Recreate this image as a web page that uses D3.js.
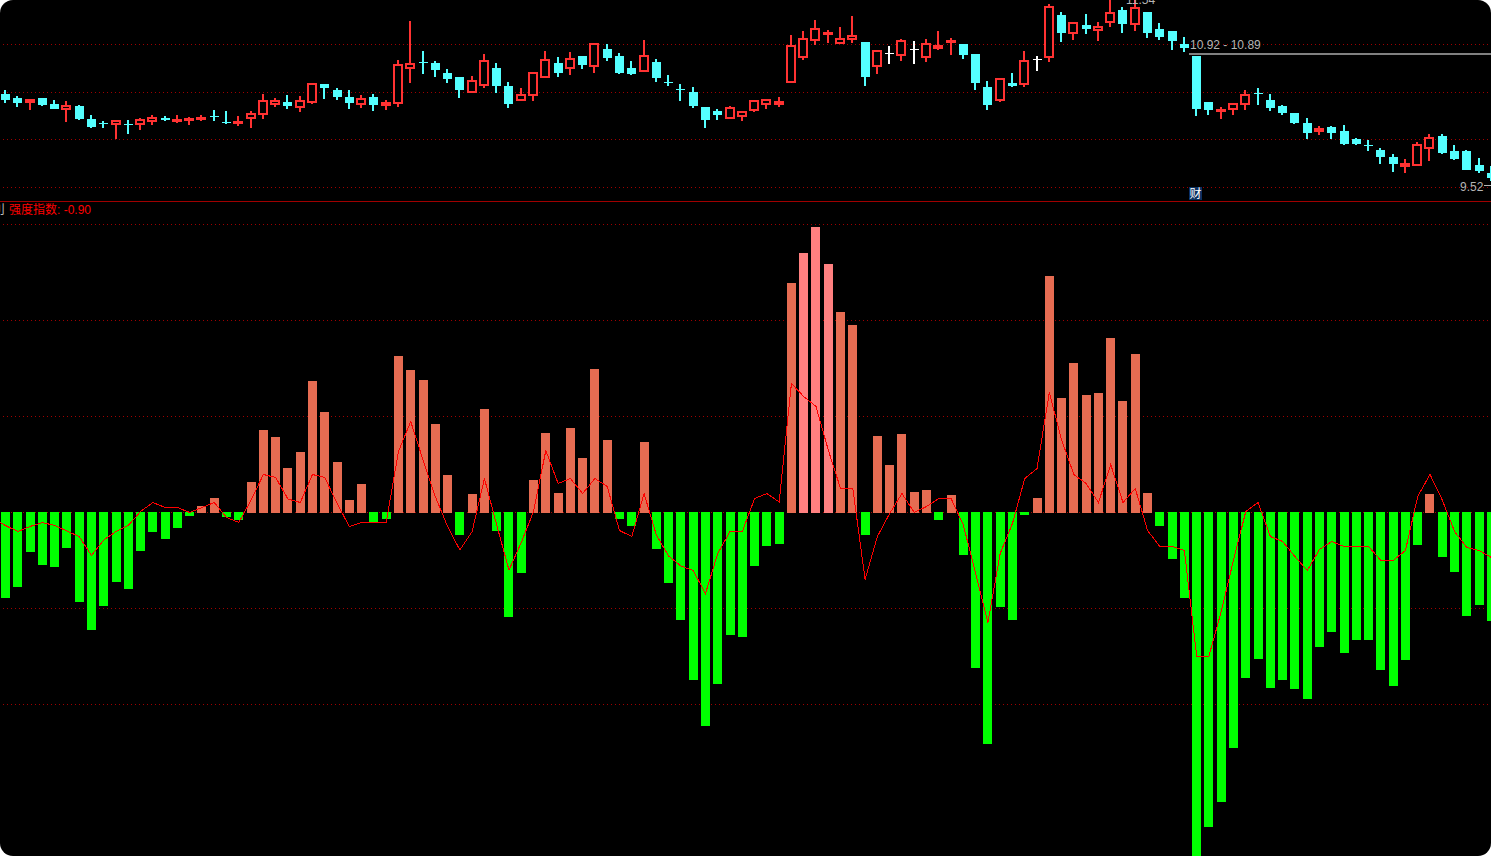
<!DOCTYPE html>
<html>
<head>
<meta charset="utf-8">
<title>强度指数</title>
<script src="https://cdn.jsdelivr.net/npm/d3@7/dist/d3.min.js"></script>
<style>
  html, body { margin: 0; padding: 0; background: #fff; overflow: hidden; }
  svg { display: block; background: #000; border-radius: 13px; }
  text { font-family: "Liberation Sans", "Noto Sans CJK SC", sans-serif; }
</style>
</head>
<body>
<div id="chart"></div>
<script>
// candles, one entry per trading day
var highs = [10.52,10.46,10.43,10.44,10.42,10.41,10.37,10.27,10.21,10.22,10.22,10.24,10.27,10.26,10.27,10.25,10.27,10.32,10.31,10.26,
  10.31,10.48,10.44,10.47,10.46,10.59,10.58,10.54,10.52,10.47,10.48,10.42,10.82,11.21,10.91,10.81,10.73,10.65,10.66,10.88,
  10.79,10.60,10.54,10.70,10.91,10.85,10.90,10.86,10.99,10.98,10.89,10.81,11.02,10.83,10.67,10.58,10.55,10.35,10.33,10.36,
  10.31,10.42,10.43,10.45,11.07,11.11,11.22,11.12,11.15,11.26,11.00,10.92,10.96,11.03,11.01,11.03,11.11,11.04,10.98,10.88,
  10.61,10.64,10.69,10.91,10.86,11.38,11.30,11.20,11.28,11.20,11.42,11.35,11.43,11.30,11.19,11.11,11.05,10.86,10.40,10.35,
  10.39,10.52,10.54,10.48,10.37,10.29,10.24,10.16,10.16,10.17,10.04,10.02,9.94,9.88,9.83,10.00,10.08,10.08,9.97,9.92,9.84,9.76];
var lows = [10.39,10.35,10.32,10.36,10.33,10.20,10.22,10.14,10.14,10.03,10.08,10.12,10.17,10.21,10.19,10.17,10.21,10.21,10.18,10.16,
  10.14,10.23,10.35,10.33,10.30,10.38,10.43,10.42,10.33,10.34,10.31,10.32,10.35,10.59,10.68,10.65,10.59,10.44,10.49,10.54,
  10.49,10.34,10.41,10.41,10.64,10.65,10.67,10.73,10.69,10.81,10.68,10.67,10.70,10.60,10.56,10.41,10.34,10.14,10.22,10.23,
  10.21,10.30,10.33,10.35,10.59,10.82,10.97,10.99,10.98,10.99,10.56,10.68,10.78,10.81,10.78,10.80,10.92,10.87,10.83,10.52,
  10.32,10.40,10.55,10.55,10.71,10.80,11.00,11.02,11.08,11.01,11.15,11.09,11.11,11.04,11.02,10.92,10.90,10.26,10.27,10.23,
  10.27,10.32,10.37,10.31,10.27,10.18,10.03,10.07,10.03,9.97,9.97,9.91,9.78,9.70,9.69,9.76,9.81,9.88,9.82,9.72,9.69,9.61];
var opens = [10.48,10.44,10.39,10.44,10.38,10.32,10.36,10.23,10.19,10.17,
  10.18,10.17,10.20,10.24,10.21,10.21,10.22,10.26,10.20,10.18,
  10.23,10.27,10.37,10.40,10.34,10.39,10.58,10.52,10.45,10.37,
  10.45,10.36,10.38,10.73,10.80,10.79,10.69,10.65,10.49,10.56,
  10.74,10.56,10.41,10.46,10.64,10.79,10.73,10.86,10.75,10.93,
  10.86,10.74,10.70,10.80,10.60,10.53,10.50,10.35,10.31,10.23,
  10.25,10.31,10.37,10.37,10.59,10.84,11.01,11.07,10.98,11.02,
  11.00,10.75,10.89,10.86,10.93,10.84,10.93,10.99,10.98,10.88,
  10.55,10.41,10.59,10.57,10.83,10.84,11.27,11.08,11.17,11.11,
  11.19,11.32,11.17,11.30,11.13,11.11,10.98,10.86,10.40,10.31,
  10.32,10.37,10.49,10.42,10.36,10.29,10.19,10.10,10.15,10.11,
  10.03,9.97,9.92,9.85,9.75,9.76,9.93,10.06,9.91,9.91,9.77,9.69];
var closes = [10.42,10.39,10.43,10.37,10.33,10.37,10.23,10.15,10.18,10.22,
  10.17,10.23,10.25,10.22,10.23,10.24,10.25,10.25,10.19,10.21,
  10.29,10.42,10.42,10.36,10.42,10.59,10.54,10.45,10.39,10.44,
  10.37,10.40,10.78,10.79,10.79,10.72,10.63,10.52,10.62,10.82,
  10.56,10.38,10.48,10.70,10.83,10.69,10.84,10.77,10.99,10.84,
  10.69,10.68,10.87,10.64,10.59,10.52,10.36,10.22,10.27,10.35,
  10.31,10.42,10.43,10.41,10.97,11.04,11.14,11.10,11.04,11.07,
  10.65,10.92,10.89,11.02,10.93,10.99,10.97,11.02,10.87,10.59,
  10.37,10.64,10.56,10.82,10.83,11.36,11.09,11.20,11.13,11.16,
  11.30,11.18,11.35,11.09,11.05,11.01,10.94,10.33,10.32,10.33,
  10.39,10.48,10.48,10.34,10.29,10.19,10.09,10.14,10.09,9.98,
  9.98,9.96,9.85,9.78,9.79,9.98,10.05,9.89,9.83,9.72,9.71,9.64];

// lower pane, histogram and the 强度指数 line
var strengthBars = [-1.71,-1.49,-0.79,-1.05,-1.09,-0.71,-1.79,-2.35,-1.87,-1.39,
  -1.53,-0.77,-0.39,-0.53,-0.31,-0.07,0.13,0.29,-0.09,-0.15,
  0.61,1.65,1.51,0.89,1.21,2.63,2.01,1.01,0.25,0.57,
  -0.19,-0.13,3.13,2.85,2.65,1.77,0.75,-0.45,0.37,2.07,
  -0.37,-2.09,-1.21,0.65,1.59,0.39,1.69,1.09,2.87,1.45,
  -0.13,-0.27,1.41,-0.73,-1.41,-2.15,-3.35,-4.27,-3.43,-2.45,
  -2.49,-1.07,-0.67,-0.63,4.59,5.19,5.71,4.97,4.01,3.75,
  -0.45,1.53,0.95,1.57,0.41,0.45,-0.15,0.35,-0.85,-3.11,
  -4.63,-1.89,-2.15,-0.05,0.29,4.73,2.29,2.99,2.35,2.39,
  3.49,2.23,3.17,0.39,-0.27,-0.93,-1.71,-6.90,-6.29,-5.79,
  -4.71,-3.31,-2.93,-3.51,-3.35,-3.53,-3.73,-2.69,-2.39,-2.81,
  -2.55,-2.55,-3.15,-3.47,-2.95,-0.65,0.37,-0.89,-1.19,-2.07,-1.85,-2.17];
var strengthLine = [-0.26,-0.38,-0.28,-0.20,-0.26,-0.37,-0.48,-0.86,-0.55,-0.38,
  -0.26,0.02,0.20,0.10,0.10,0.00,0.10,0.20,-0.10,-0.20,
  0.25,0.76,0.70,0.27,0.20,0.76,0.70,0.18,-0.28,-0.20,
  -0.20,-0.20,1.22,1.82,1.05,0.32,-0.28,-0.75,-0.38,0.68,
  -0.25,-1.15,-0.60,0.02,1.24,0.58,0.68,0.38,0.68,0.52,
  -0.36,-0.48,0.38,-0.45,-0.87,-1.07,-1.16,-1.62,-0.82,-0.38,
  -0.38,0.28,0.38,0.21,2.58,2.32,2.12,1.25,0.48,0.48,
  -1.34,-0.48,-0.02,0.38,0.00,0.12,0.28,0.28,-0.25,-1.22,
  -2.20,-0.82,-0.22,0.68,0.88,2.40,1.45,0.76,0.58,0.20,
  0.96,0.20,0.48,-0.36,-0.68,-0.68,-0.76,-2.87,-2.87,-1.98,
  -0.95,0.02,0.20,-0.48,-0.58,-0.88,-1.16,-0.74,-0.58,-0.68,
  -0.68,-0.68,-0.96,-0.96,-0.76,0.32,0.76,0.25,-0.38,-0.70,-0.76,-0.90];
var strengthBefore = -0.12; // the day just off the left edge

var whiteCrosses = [72, 74, 84];
var pinkBars = [65, 66, 67];
var priceGrid = [10.975, 10.495, 10.025, 9.545];
var strengthGrid = [5.76, 3.84, 1.92, 0, -1.92, -3.84];
var gapLow = 10.885;

var width = 1491, height = 856;
var red = "#ff3232", cyan = "#54ffff", gridRed = "#a00000", labelGrey = "#b4b4b4";

var svg = d3.select("#chart").append("svg").attr("width", width).attr("height", height);

var x = d3.scaleLinear().domain([0, 121]).range([5.5, 1491.4]);
var priceY = d3.scaleLinear().domain([11.42, 9.42]).range([0, 200]);
var strengthY = d3.scaleLinear().domain([0, -1]).range([512.5, 562.5]);

var indexes = d3.range(highs.length);
var slot = function(i) { return Math.round(x(i) - 4.5); };

// dotted grid
var drawGrid = function(values, scale) {
  svg.append("g").selectAll("line").data(values).enter().append("line")
    .attr("x1", 3).attr("x2", width)
    .attr("y1", function(d) { return Math.floor(scale(d)) + 0.5; })
    .attr("y2", function(d) { return Math.floor(scale(d)) + 0.5; })
    .style("stroke", gridRed).style("stroke-dasharray", "1 3")
    .attr("shape-rendering", "crispEdges");
};
drawGrid(priceGrid, priceY);
drawGrid(strengthGrid, strengthY);

// pane separator
svg.append("line").attr("x1", 0).attr("x2", width).attr("y1", 201.5).attr("y2", 201.5)
  .style("stroke", gridRed).attr("shape-rendering", "crispEdges");

// candles
var candleColor = function(i) {
  if (whiteCrosses.indexOf(i) >= 0) return "#fff";
  return closes[i] > opens[i] ? red : cyan;
};
var isCross = function(i) {
  return Math.abs(opens[i] - closes[i]) < 0.015;
};
var candles = svg.append("g").selectAll("g").data(indexes).enter().append("g")
  .attr("shape-rendering", "crispEdges");

candles.append("rect") // upper wick
  .attr("x", function(i) { return slot(i) + 3; })
  .attr("width", 2)
  .attr("y", function(i) { return priceY(highs[i]); })
  .attr("height", function(i) { return Math.max(0, priceY(Math.max(opens[i], closes[i])) - priceY(highs[i])); })
  .style("fill", candleColor);
candles.append("rect") // lower wick
  .attr("x", function(i) { return slot(i) + 3; })
  .attr("width", 2)
  .attr("y", function(i) { return priceY(Math.min(opens[i], closes[i])); })
  .attr("height", function(i) { return Math.max(0, priceY(lows[i]) - priceY(Math.min(opens[i], closes[i]))); })
  .style("fill", candleColor);
candles.append("rect") // body
  .attr("x", slot)
  .attr("width", function(i) { return closes[i] > opens[i] ? 8 : 9; })
  .attr("y", function(i) {
    var top = priceY(Math.max(opens[i], closes[i]));
    return closes[i] > opens[i] ? top + 1 : top;
  })
  .attr("height", function(i) {
    var h = priceY(Math.min(opens[i], closes[i])) - priceY(Math.max(opens[i], closes[i]));
    if (isCross(i)) return 1;
    return closes[i] > opens[i] ? Math.max(h - 2, 0.5) : h;
  })
  .style("fill", function(i) { return closes[i] > opens[i] ? "#000" : candleColor(i); })
  .style("stroke", function(i) { return closes[i] > opens[i] ? red : "none"; })
  .style("stroke-width", 2);

// gap marker and price notes
svg.append("rect").attr("x", x(97) - 8).attr("y", priceY(gapLow) - 1)
  .attr("width", width - x(97) + 8).attr("height", 2)
  .style("fill", "#808080").attr("shape-rendering", "crispEdges");
svg.append("line").attr("x1", 1484).attr("x2", width).attr("y1", 185.5).attr("y2", 185.5)
  .style("stroke", labelGrey).attr("shape-rendering", "crispEdges");

var note = function(tx, ty, str, color, size) {
  return svg.append("text").attr("x", tx).attr("y", ty).text(str)
    .style("fill", color).style("font-size", size + "px");
};
note(1126, 3.5, "11.54", labelGrey, 12);
note(1190, 49, "10.92 - 10.89", labelGrey, 12);
note(1460, 191, "9.52", labelGrey, 12);

svg.append("rect").attr("x", 1189).attr("y", 187).attr("width", 13).attr("height", 13)
  .style("fill", "#0a2f5f");
note(1189.5, 198, "财", "#fff", 12);

// histogram
svg.append("g").selectAll("rect").data(indexes).enter().append("rect")
  .attr("x", slot)
  .attr("width", 9)
  .attr("y", function(i) { return strengthBars[i] > 0 ? strengthY(strengthBars[i]) : strengthY(0) - 0.5; })
  .attr("height", function(i) { return Math.abs(strengthY(strengthBars[i]) - strengthY(0)) + 0.5; })
  .style("fill", function(i) {
    if (strengthBars[i] < 0) return "#00ff00";
    return pinkBars.indexOf(i) >= 0 ? "#ff8080" : "#e66c52";
  })
  .attr("shape-rendering", "crispEdges");

// strength line
var line = d3.line()
  .x(function(d, i) { return x(i - 1); })
  .y(function(d) { return strengthY(d); });
svg.append("path").attr("d", line([strengthBefore].concat(strengthLine)))
  .style("fill", "none").style("stroke", "#ff0000").style("stroke-width", 1)
  .attr("shape-rendering", "crispEdges");

// title row
note(-7, 214, "刂", "#c0c0c0", 12);
note(9, 214, "强度指数: -0.90", "#ff0000", 12);
</script>
</body>
</html>
